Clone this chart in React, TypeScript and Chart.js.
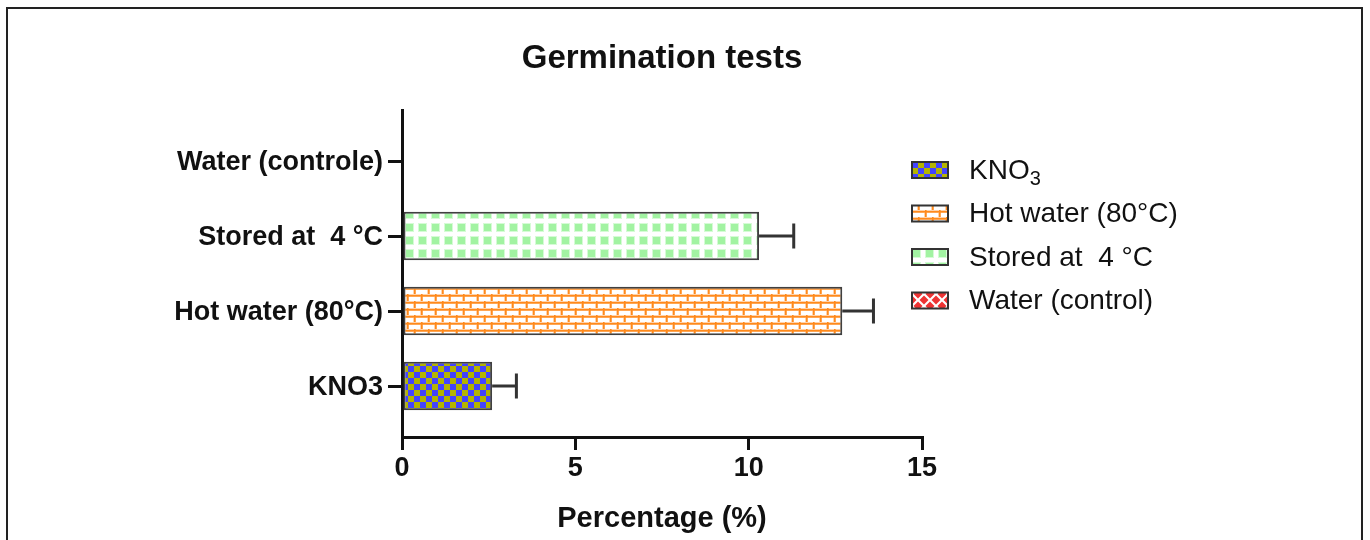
import React, { useEffect, useRef } from "react";
import { Chart, registerables } from "chart.js";

Chart.register(...registerables);

// ---- data ----
const categories = ["KNO3", "Hot water (80°C)", "Stored at  4 °C", "Water (controle)"];
const means = [2.6, 12.7, 10.3, 0];
const errors = [0.7, 0.9, 1.0, 0];
const xTicks = [0, 5, 10, 15];
const legendLabels = ["KNO", "Hot water (80°C)", "Stored at  4 °C", "Water (control)"];
const legendSubs = ["3", "", "", ""];
const patternKinds = ["checker", "brick", "grid", "diamond"];
const chartTitle = "Germination tests";
const axisTitle = "Percentage (%)";

const FONT = '"Liberation Sans", Arial, Helvetica, sans-serif';

function makePattern(kind: string): CanvasPattern | string {
  const c = document.createElement("canvas");
  const g = c.getContext("2d")!;
  if (kind === "checker") {
    c.width = 12; c.height = 12;
    g.fillStyle = "#b4b400";
    g.fillRect(0, 0, 12, 12);
    g.fillStyle = "#4343ff";
    g.fillRect(6, 0, 6, 6);
    g.fillRect(0, 6, 6, 6);
  } else if (kind === "brick") {
    c.width = 14; c.height = 14;
    g.fillStyle = "#ffffff";
    g.fillRect(0, 0, 14, 14);
    g.fillStyle = "#ffd2aa";
    g.fillRect(0, 0, 14, 3);
    g.fillRect(0, 7, 14, 3);
    g.fillRect(0, 0, 3, 7);
    g.fillRect(7, 7, 3, 7);
    g.fillStyle = "#ff8a1c";
    g.fillRect(0, 1, 14, 1.6);
    g.fillRect(0, 8, 14, 1.6);
    g.fillRect(1, 0, 1.6, 7);
    g.fillRect(8, 7, 1.6, 7);
  } else if (kind === "grid") {
    c.width = 13; c.height = 13;
    g.fillStyle = "#ffffff";
    g.fillRect(0, 0, 13, 13);
    g.fillStyle = "#d6fbd6";
    g.fillRect(2, 2, 9, 9);
    g.fillStyle = "#a2f3a2";
    g.fillRect(3, 3, 7, 7);
  } else {
    c.width = 12; c.height = 12;
    g.fillStyle = "#ffffff";
    g.fillRect(0, 0, 12, 12);
    g.fillStyle = "#ee3434";
    const diamond = (cx: number, cy: number, r: number) => {
      g.beginPath();
      g.moveTo(cx, cy - r);
      g.lineTo(cx + r, cy);
      g.lineTo(cx, cy + r);
      g.lineTo(cx - r, cy);
      g.closePath();
      g.fill();
    };
    diamond(6, 6, 4.5);
    diamond(0, 0, 4.5);
    diamond(12, 0, 4.5);
    diamond(0, 12, 4.5);
    diamond(12, 12, 4.5);
  }
  return g.createPattern(c, "repeat") || "#888";
}

export default function App() {
  const ref = useRef<HTMLCanvasElement | null>(null);

  useEffect(() => {
    if (!ref.current) return;
    const patterns = patternKinds.map(makePattern);

    const framePlugin = {
      id: "frame",
      beforeDraw(chart: any) {
        const ctx = chart.ctx;
        ctx.save();
        ctx.fillStyle = "#ffffff";
        ctx.fillRect(0, 0, chart.width, chart.height);
        ctx.strokeStyle = "#222";
        ctx.lineWidth = 2;
        ctx.strokeRect(7, 8, chart.width - 15, chart.height + 20);
        // title
        const ca = chart.chartArea;
        ctx.fillStyle = "#111";
        ctx.font = `bold 33px ${FONT}`;
        ctx.textAlign = "center";
        ctx.textBaseline = "middle";
        ctx.fillText(chartTitle, (ca.left + ca.right) / 2, 59);
        ctx.restore();
      },
    };

    const errorBarPlugin = {
      id: "errorBars",
      afterDatasetsDraw(chart: any) {
        const ctx = chart.ctx;
        const meta = chart.getDatasetMeta(0);
        const xs = chart.scales.x;
        ctx.save();
        ctx.strokeStyle = "#333";
        ctx.lineWidth = 3;
        meta.data.forEach((el: any, i: number) => {
          if (!errors[i]) return;
          const x0 = el.x;
          const x1 = xs.getPixelForValue(means[i] + errors[i]);
          const y = el.y;
          ctx.beginPath();
          ctx.moveTo(x0, y);
          ctx.lineTo(x1, y);
          ctx.moveTo(x1, y - 12.5);
          ctx.lineTo(x1, y + 12.5);
          ctx.stroke();
        });
        ctx.restore();
      },
    };

    const legendPlugin = {
      id: "customLegend",
      afterDraw(chart: any) {
        const ctx = chart.ctx;
        const bx = 912;
        const bw = 36;
        const bh = 16;
        const y0 = 170;
        const step = 43.5;
        ctx.save();
        legendLabels.forEach((label, i) => {
          const cy = y0 + i * step;
          ctx.fillStyle = patterns[i] as any;
          ctx.fillRect(bx, cy - bh / 2, bw, bh);
          ctx.strokeStyle = "#333";
          ctx.lineWidth = 2;
          ctx.strokeRect(bx, cy - bh / 2, bw, bh);
          ctx.fillStyle = "#111";
          ctx.font = `28px ${FONT}`;
          ctx.textAlign = "left";
          ctx.textBaseline = "middle";
          const tx = 969;
          ctx.fillText(label, tx, cy + 1);
          if (legendSubs[i]) {
            const w = ctx.measureText(label).width;
            ctx.font = `20px ${FONT}`;
            ctx.fillText(legendSubs[i], tx + w, cy + 9);
          }
        });
        ctx.restore();
      },
    };

    const chart = new Chart(ref.current, {
      type: "bar",
      data: {
        datasets: [
          {
            label: "Germination",
            data: means.map((v, i) => ({ x: v, y: i })) as any,
            backgroundColor: patterns as any,
            borderColor: "#404040",
            borderWidth: 2,
            borderSkipped: false,
            barPercentage: 0.645,
            categoryPercentage: 1,
          },
        ],
      },
      options: {
        indexAxis: "y",
        responsive: false,
        animation: false,
        devicePixelRatio: 1,
        layout: { padding: { top: 110, left: 0, right: 448, bottom: 0 } },
        plugins: {
          legend: { display: false },
          title: { display: false },
          tooltip: { enabled: false },
        },
        font: { family: FONT },
        scales: {
          x: {
            type: "linear",
            min: 0,
            max: 15,
            afterBuildTicks: (s: any) => {
              s.ticks = xTicks.map((v) => ({ value: v }));
            },
            ticks: {
              font: { family: FONT, size: 27, weight: "bold" },
              color: "#111",
              padding: 2,
            },
            grid: {
              drawOnChartArea: false,
              drawTicks: true,
              tickLength: 13,
              color: "#111",
              lineWidth: 3,
            },
            border: { display: true, color: "#111", width: 3 },
            title: {
              display: true,
              text: axisTitle,
              color: "#111",
              font: { family: FONT, size: 29, weight: "bold" },
              padding: { top: 0, bottom: 4 },
            },
            afterFit: (s: any) => {
              s.height = 103;
            },
          },
          y: {
            type: "linear",
            min: -0.68,
            max: 3.68,
            offset: false,
            afterBuildTicks: (s: any) => {
              s.ticks = categories.map((_, i) => ({ value: i }));
            },
            ticks: {
              callback: (v: any) => categories[v as number] ?? "",
              font: { family: FONT, size: 27, weight: "bold" },
              color: "#111",
              padding: 5,
              labelOffset: 2,
              autoSkip: false,
            },
            grid: {
              offset: false,
              drawOnChartArea: false,
              drawTicks: true,
              tickLength: 14,
              color: "#111",
              lineWidth: 3,
            },
            border: { display: true, color: "#111", width: 3 },
            afterFit: (s: any) => {
              s.width = 402;
            },
          },
        },
      } as any,
      plugins: [framePlugin, errorBarPlugin, legendPlugin],
    });

    return () => chart.destroy();
  }, []);

  return (
    <canvas
      ref={ref}
      width={1370}
      height={540}
      style={{ position: "fixed", left: 0, top: 0, width: 1370, height: 540 }}
    />
  );
}
